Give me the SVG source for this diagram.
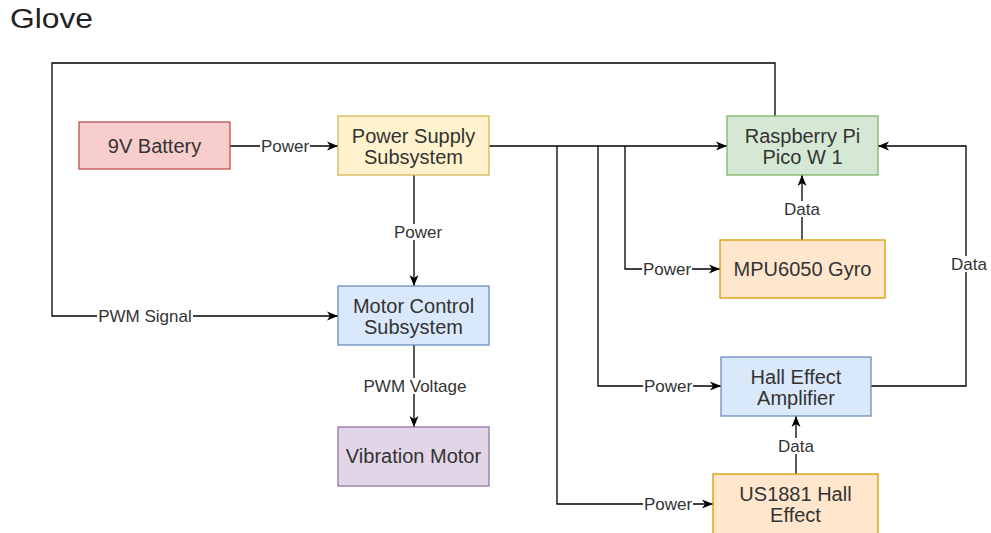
<svg xmlns="http://www.w3.org/2000/svg" width="991" height="533" viewBox="0 0 991 533">
<defs>
<marker id="arr" markerUnits="userSpaceOnUse" markerWidth="12" markerHeight="10" viewBox="0 0 12 10" refX="11" refY="5" orient="auto">
<path d="M0,0.5 L11,5 L0,9.5 L3,5 Z" fill="#000"/>
</marker>
</defs>
<style>
.n{stroke-width:1.3}
.t{font-family:"Liberation Sans",Arial,sans-serif;font-size:20px;fill:#333;text-anchor:middle}
.l{font-family:"Liberation Sans",Arial,sans-serif;font-size:17px;fill:#333;text-anchor:middle}
.bg{fill:#fff}
.c{fill:none;stroke:#000;stroke-width:1.3}
.a{marker-end:url(#arr)}
</style>
<rect width="991" height="533" fill="#fff"/>
<text x="10" y="28" font-family="'Liberation Sans',Arial,sans-serif" font-size="27" fill="#222" textLength="83" lengthAdjust="spacingAndGlyphs">Glove</text>

<g id="connectors">
<path class="c a" d="M230,146 H338"/>
<path class="c a" d="M489,146 H727"/>
<path class="c a" d="M557,146 V504 H713"/>
<path class="c a" d="M598,146 V386 H721"/>
<path class="c a" d="M625,146 V269 H720"/>
<path class="c a" d="M802,240 V175"/>
<path class="c a" d="M796,474 V416"/>
<path class="c a" d="M871,386 H966 V146 H878"/>
<path class="c a" d="M414,175 V286"/>
<path class="c a" d="M414,345 V427"/>
<path class="c a" d="M775,116 V63 H52 V316 H338"/>
<rect class="bg" x="260" y="138" width="50" height="16"/>
<text class="l" x="285" y="152">Power</text>
<rect class="bg" x="643" y="496" width="50" height="16"/>
<text class="l" x="668" y="510">Power</text>
<rect class="bg" x="643" y="378" width="50" height="16"/>
<text class="l" x="668" y="392">Power</text>
<rect class="bg" x="642" y="261" width="50" height="16"/>
<text class="l" x="667" y="275">Power</text>
<rect class="bg" x="783" y="201" width="38" height="16"/>
<text class="l" x="802" y="215">Data</text>
<rect class="bg" x="777" y="438" width="38" height="16"/>
<text class="l" x="796" y="452">Data</text>
<rect class="bg" x="950" y="256" width="38" height="16"/>
<text class="l" x="969" y="270">Data</text>
<rect class="bg" x="393" y="224" width="50" height="16"/>
<text class="l" x="418" y="238">Power</text>
<rect class="bg" x="362" y="378" width="106" height="16"/>
<text class="l" x="415" y="392">PWM Voltage</text>
<rect class="bg" x="97" y="308" width="96" height="16"/>
<text class="l" x="145" y="322">PWM Signal</text>
</g>

<g id="battery">
<rect class="n" x="79" y="122" width="151" height="47" fill="#f8cecc" stroke="#b85450"/>
<text class="t" x="154.5" y="153">9V Battery</text>
</g>
<g id="power-supply">
<rect class="n" x="338" y="116" width="151" height="59" fill="#fff2cc" stroke="#d6b656"/>
<text class="t" x="413.5" y="143">Power Supply</text>
<text class="t" x="413.5" y="164">Subsystem</text>
</g>
<g id="motor-control">
<rect class="n" x="338" y="286" width="151" height="59" fill="#dae8fc" stroke="#6c8ebf"/>
<text class="t" x="413.5" y="313">Motor Control</text>
<text class="t" x="413.5" y="334">Subsystem</text>
</g>
<g id="vibration-motor">
<rect class="n" x="338" y="427" width="151" height="59" fill="#e1d5e7" stroke="#9673a6"/>
<text class="t" x="413.5" y="463">Vibration Motor</text>
</g>
<g id="raspberry-pi">
<rect class="n" x="727" y="116" width="151" height="59" fill="#d5e8d4" stroke="#82b366"/>
<text class="t" x="802.5" y="143">Raspberry Pi</text>
<text class="t" x="802.5" y="164">Pico W 1</text>
</g>
<g id="mpu6050">
<rect class="n" x="720" y="240" width="165" height="58" fill="#ffe6cc" stroke="#d79b00"/>
<text class="t" x="802.5" y="276">MPU6050 Gyro</text>
</g>
<g id="hall-amplifier">
<rect class="n" x="721" y="357" width="150" height="59" fill="#dae8fc" stroke="#6c8ebf"/>
<text class="t" x="796" y="384">Hall Effect</text>
<text class="t" x="796" y="405">Amplifier</text>
</g>
<g id="us1881">
<rect class="n" x="713" y="474" width="165" height="61" fill="#ffe6cc" stroke="#d79b00"/>
<text class="t" x="795.5" y="501">US1881 Hall</text>
<text class="t" x="795.5" y="522">Effect</text>
</g>
</svg>
